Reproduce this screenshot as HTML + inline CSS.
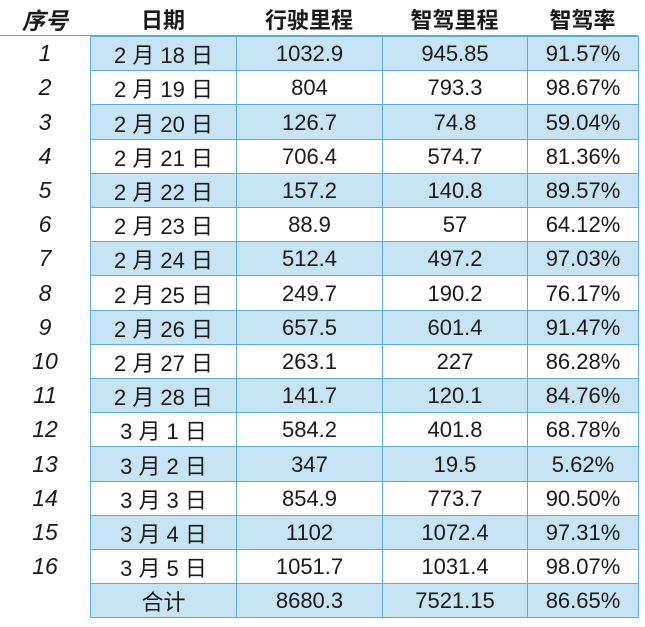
<!DOCTYPE html>
<html><head><meta charset="utf-8">
<style>
html,body{margin:0;padding:0;background:#fff;}
#wrap{position:relative;width:645px;height:627px;overflow:hidden;font-family:"Liberation Sans","Noto Sans CJK SC",sans-serif;color:#1a1a1a;}
.c{position:absolute;box-sizing:border-box;display:flex;align-items:center;justify-content:center;font-size:22px;padding-top:1px;}
.h{font-weight:bold;font-size:22px;}
.idx{font-style:italic;font-size:23px;}
.b{border:1px solid #5aaed6;}
.blue{background:#c6e4f3;}
</style></head><body>
<div id="wrap"></div>
<script>
const idx=["1","2","3","4","5","6","7","8","9","10","11","12","13","14","15","16",""];
const dates=["2 月 18 日","2 月 19 日","2 月 20 日","2 月 21 日","2 月 22 日","2 月 23 日","2 月 24 日","2 月 25 日","2 月 26 日","2 月 27 日","2 月 28 日","3 月 1 日","3 月 2 日","3 月 3 日","3 月 4 日","3 月 5 日","合计"];
const drive=["1032.9","804","126.7","706.4","157.2","88.9","512.4","249.7","657.5","263.1","141.7","584.2","347","854.9","1102","1051.7","8680.3"];
const smart=["945.85","793.3","74.8","574.7","140.8","57","497.2","190.2","601.4","227","120.1","401.8","19.5","773.7","1072.4","1031.4","7521.15"];
const rate=["91.57%","98.67%","59.04%","81.36%","89.57%","64.12%","97.03%","76.17%","91.47%","86.28%","84.76%","68.78%","5.62%","90.50%","97.31%","98.07%","86.65%"];
const headers=["序号","日期","行驶里程","智驾里程","智驾率"];
const xs=[0,90,236,382,527,638];
const top0=36,rh=34.2;
const W=document.getElementById('wrap');
function cell(x,y,w,h,txt,cls){const d=document.createElement('div');d.className='c '+cls;d.style.left=x+'px';d.style.top=y+'px';d.style.width=w+'px';d.style.height=h+'px';d.textContent=txt;W.appendChild(d);return d;}
headers.forEach((t,i)=>{const d=cell(xs[i],0,xs[i+1]-xs[i],36,t,'h'+(i==0?' idx':''));

});
const line=document.createElement('div');line.style.cssText='position:absolute;left:0;top:35px;width:638px;height:1px;background:#5aaed6';


W.appendChild(line);
const cols=[dates,drive,smart,rate];
for(let r=0;r<dates.length;r++){
 const y=Math.round(top0+r*rh),y2=Math.round(top0+(r+1)*rh);
 const ic=cell(0,y,90,y2-y,idx[r],'idx');
 
 
 const blue=(r%2==0);
 cols.forEach((arr,c)=>{const d=cell(xs[c+1],y,xs[c+2]-xs[c+1]+1,y2-y+1,arr[r],'b'+(blue?' blue':''));
 
 });
}
</script>
</body></html>
